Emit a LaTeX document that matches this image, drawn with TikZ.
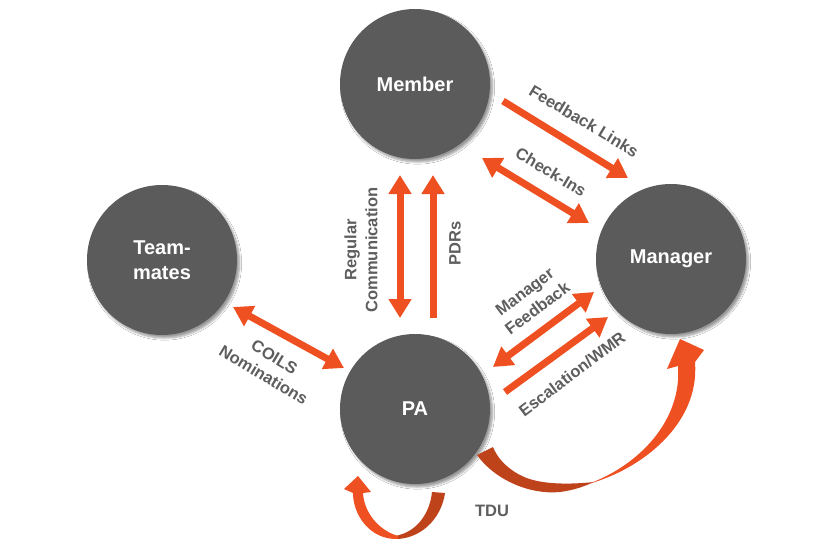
\documentclass[tikz,border=0pt]{standalone}
\usepackage{fontspec}
\setmainfont{Liberation Sans}
\usetikzlibrary{arrows.meta,shadows.blur}
\definecolor{circgrey}{HTML}{5B5B5B}
\definecolor{labgrey}{HTML}{5E5E5E}
\definecolor{arr}{HTML}{EE5022}
\definecolor{arrdark}{HTML}{BE431B}
\tikzset{arrtip/.tip={Triangle[width=22pt,length=19pt]}}
\begin{document}
\begin{tikzpicture}[x=1pt,y=-1pt,
  bubble/.style={circle, fill=circgrey, minimum size=150pt, inner sep=0pt, text=white,
    font=\fontsize{20}{25}\selectfont\bfseries, align=center,
    blur shadow={shadow xshift=2.5pt, shadow yshift=-3pt, shadow blur steps=6, shadow opacity=40}},
  lbl/.style={text=labgrey, font=\fontsize{16.5}{21}\selectfont\bfseries, align=center, inner sep=0pt},
  one/.style={draw=arr, line width=7pt, -arrtip},
  two/.style={draw=arr, line width=7pt, arrtip-arrtip},
  ribbon/.style={fill=arr},
  ribbondark/.style={fill=arrdark}
]
\fill[white] (0,0) rectangle (840,552);
\useasboundingbox (0,0) rectangle (840,552);

% circles
\node[bubble] (member) at (415,84) {Member};
\node[bubble] (team) at (162,260) {Team-\\mates};
\node[bubble] (manager) at (671,259) {\raisebox{-3pt}{Manager}};
\node[bubble] (pa) at (415,409) {PA};

% connector end points
\coordinate (fl1) at (503,101); \coordinate (fl2) at (628,178);
\coordinate (ci1) at (482,158); \coordinate (ci2) at (589,223);
\coordinate (rc1) at (400,175); \coordinate (rc2) at (400,318);
\coordinate (pd1) at (433,318); \coordinate (pd2) at (433,175);
\coordinate (co1) at (233,307); \coordinate (co2) at (344,368);
\coordinate (mf1) at (493,367); \coordinate (mf2) at (594,292);
\coordinate (es1) at (505,392); \coordinate (es2) at (608,317);

% straight arrows
\draw[one] (fl1) -- (fl2);
\draw[two] (ci1) -- (ci2);
\draw[two] (rc1) -- (rc2);
\draw[one] (pd1) -- (pd2);
\draw[two] (co1) -- (co2);
\draw[two] (mf1) -- (mf2);
\draw[one] (es1) -- (es2);

% labels
\node[lbl, rotate=-31] (lfl) at (584,121) {Feedback Links};
\node[lbl, rotate=-31] (lci) at (551,172) {Check-Ins};
\node[lbl, rotate=90] (lrc) at (361,250) {Regular\\Communication};
\node[lbl, rotate=90] (lpd) at (455,243) {PDRs};
\node[lbl, rotate=-31] (lco) at (269,366) {COILS\\Nominations};
\node[lbl, rotate=37] (lmf) at (531,300) {Manager\\Feedback};
\node[lbl, rotate=37] (les) at (572,374) {Escalation/WMR};
\node[lbl] (ltdu) at (492,511) {TDU};

% big ribbon arrow PA -> Manager
\fill[ribbondark] (477,455) .. controls (495,480) and (530,495) .. (560,492)
  .. controls (575,490) and (585,486) .. (594,482)
  .. controls (575,484) and (540,486) .. (520,475)
  .. controls (505,467) and (497,457) .. (493,447) -- cycle;
\fill[ribbon] (588,484) .. controls (640,470) and (700,425) .. (695,362)
  -- (704,350) -- (680,339) -- (667,369) -- (678,366)
  .. controls (682,420) and (640,465) .. (588,484) -- cycle;

% small ribbon arrow (TDU loop)
\fill[ribbondark] (445,493) .. controls (442,515) and (425,537) .. (398,539)
  -- (395,536) .. controls (418,532) and (430,512) .. (432,492) -- cycle;
\fill[ribbon] (398,539) .. controls (370,540) and (353,515) .. (353,493)
  -- (344,489) -- (358,476) -- (371,492) -- (363,493)
  .. controls (364,512) and (378,530) .. (398,536) -- cycle;
\end{tikzpicture}
\end{document}
